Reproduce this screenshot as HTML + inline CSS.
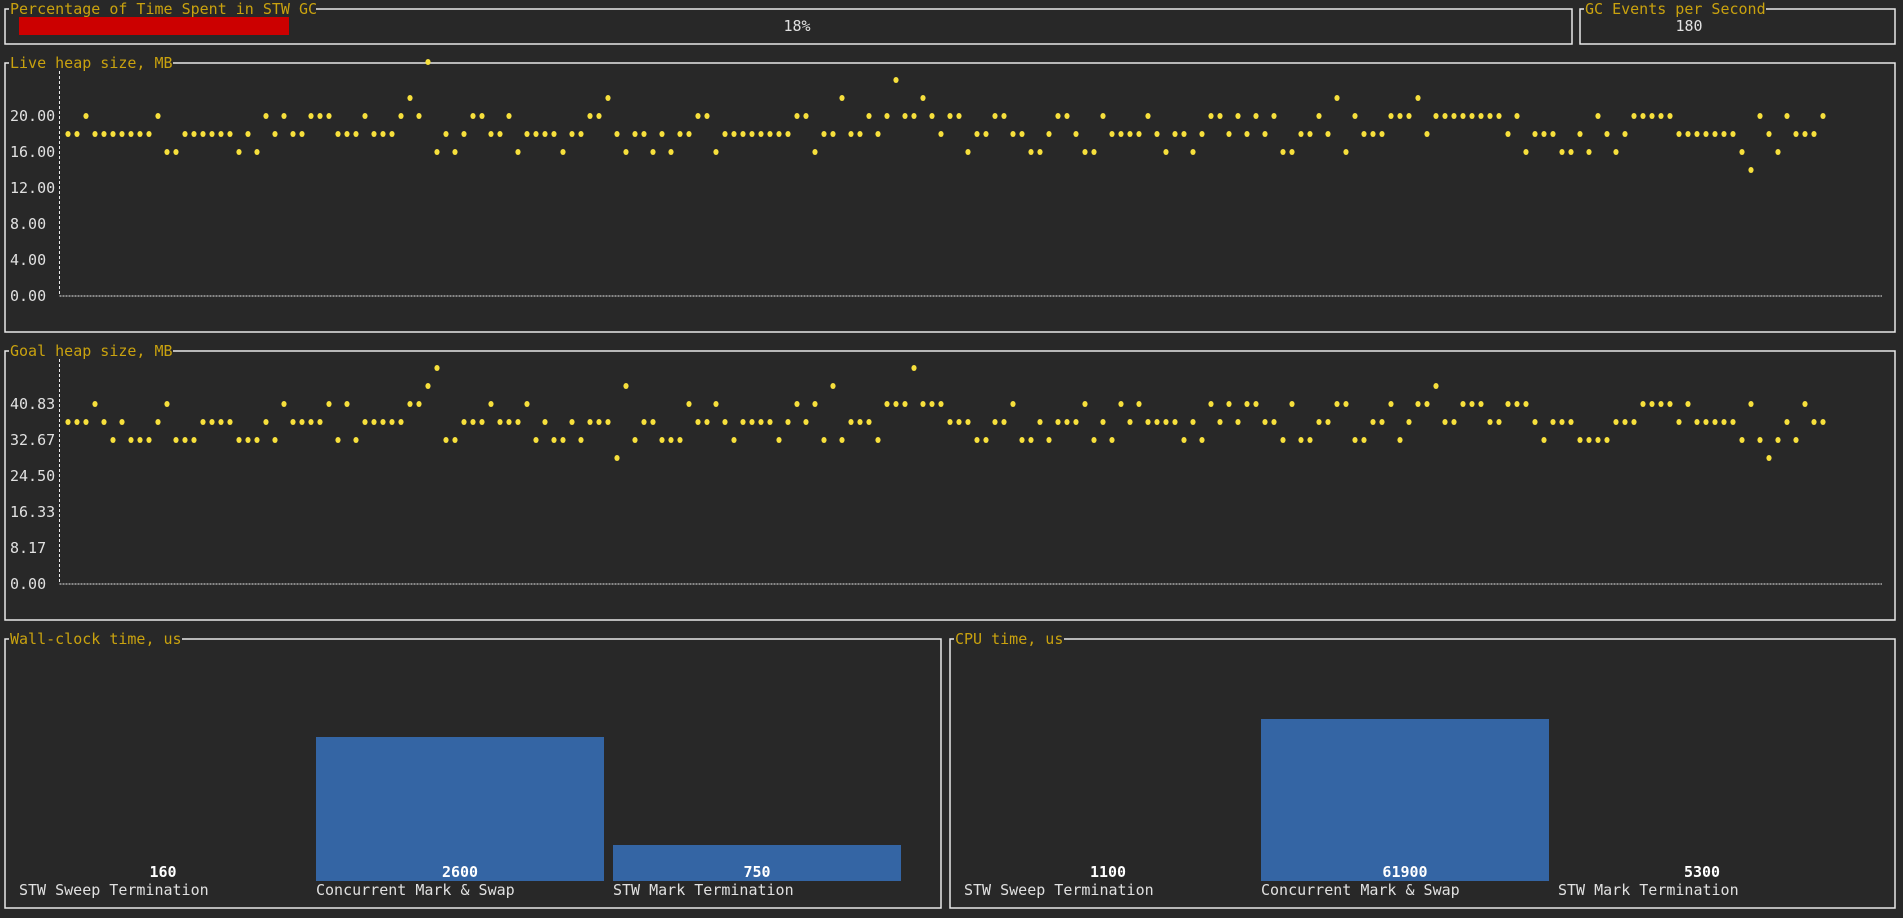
<!DOCTYPE html>
<html><head><meta charset="utf-8"><style>
html,body{margin:0;padding:0;background:#282828;}
svg{display:block;font-family:"DejaVu Sans Mono","Liberation Mono",monospace;font-size:15px;}
</style></head><body>
<svg id="root" width="1903" height="918" viewBox="0 0 1903 918" xmlns="http://www.w3.org/2000/svg">
<rect x="0" y="0" width="1903" height="918" fill="#282828"/>
<g id="frames" fill="none" stroke="#e8e8e8" stroke-width="1.5">
<rect x="5" y="9" width="1567" height="35"/>
<rect x="1580" y="9" width="315" height="35"/>
<rect x="5" y="63" width="1890" height="269"/>
<rect x="5" y="351" width="1890" height="269"/>
<rect x="5" y="639" width="936" height="269"/>
<rect x="950" y="639" width="945" height="269"/>
</g>
<g fill="#c9a20f">
<rect x="9" y="0" width="307" height="18" fill="#282828"/><text x="10" y="14">Percentage of Time Spent in STW GC</text>
<rect x="1584" y="0" width="182" height="18" fill="#282828"/><text x="1585" y="14">GC Events per Second</text>
<rect x="9" y="54" width="164" height="18" fill="#282828"/><text x="10" y="68">Live heap size, MB</text>
<rect x="9" y="342" width="164" height="18" fill="#282828"/><text x="10" y="356">Goal heap size, MB</text>
<rect x="9" y="630" width="173" height="18" fill="#282828"/><text x="10" y="644">Wall-clock time, us</text>
<rect x="954" y="630" width="110" height="18" fill="#282828"/><text x="955" y="644">CPU time, us</text>
</g>
<rect x="19" y="17" width="270" height="18" fill="#cc0000"/>
<text x="797" y="31" fill="#e0e0e0" text-anchor="middle">18%</text>
<text x="1689" y="31" fill="#e0e0e0" text-anchor="middle">180</text>
<g id="live"></g>
<g id="goal"></g>
<g id="wall"></g>
<g id="cpu"></g>
</svg>
<script>
const liveValues = [18,18,20,18,18,18,18,18,18,18, 20,16,16,18,18,18,18,18,18,16, 18,16,20,18,20,18,18,20,20,20,
 18,18,18,20,18,18,18,20,22,20, 26,16,18,16,18,20,20,18,18,20, 16,18,18,18,18,16,18,18,20,20,
 22,18,16,18,18,16,18,16,18,18, 20,20,16,18,18,18,18,18,18,18, 18,20,20,16,18,18,22,18,18,20,
 18,20,24,20,20,22,20,18,20,20, 16,18,18,20,20,18,18,16,16,18, 20,20,18,16,16,20,18,18,18,18,
 20,18,16,18,18,16,18,20,20,18, 20,18,20,18,20,16,16,18,18,20, 18,22,16,20,18,18,18,20,20,20,
 22,18,20,20,20,20,20,20,20,20, 18,20,16,18,18,18,16,16,18,16, 20,18,16,18,20,20,20,20,20,18,
 18,18,18,18,18,18,16,14,20,18, 16,20,18,18,18,20];
const liveTicks = ["0.00","4.00","8.00","12.00","16.00","20.00"];
const liveTickValues = [0,4,8,12,16,20];
const goalValues = [36.75,36.75,36.75,40.83,36.75,32.67,36.75,32.67,32.67,32.67,
 36.75,40.83,32.67,32.67,32.67,36.75,36.75,36.75,36.75,32.67,
 32.67,32.67,36.75,32.67,40.83,36.75,36.75,36.75,36.75,40.83,
 32.67,40.83,32.67,36.75,36.75,36.75,36.75,36.75,40.83,40.83,
 44.92,49,32.67,32.67,36.75,36.75,36.75,40.83,36.75,36.75,
 36.75,40.83,32.67,36.75,32.67,32.67,36.75,32.67,36.75,36.75,
 36.75,28.58,44.92,32.67,36.75,36.75,32.67,32.67,32.67,40.83,
 36.75,36.75,40.83,36.75,32.67,36.75,36.75,36.75,36.75,32.67,
 36.75,40.83,36.75,40.83,32.67,44.92,32.67,36.75,36.75,36.75,
 32.67,40.83,40.83,40.83,49,40.83,40.83,40.83,36.75,36.75,
 36.75,32.67,32.67,36.75,36.75,40.83,32.67,32.67,36.75,32.67,
 36.75,36.75,36.75,40.83,32.67,36.75,32.67,40.83,36.75,40.83,
 36.75,36.75,36.75,36.75,32.67,36.75,32.67,40.83,36.75,40.83,
 36.75,40.83,40.83,36.75,36.75,32.67,40.83,32.67,32.67,36.75,
 36.75,40.83,40.83,32.67,32.67,36.75,36.75,40.83,32.67,36.75,
 40.83,40.83,44.92,36.75,36.75,40.83,40.83,40.83,36.75,36.75,
 40.83,40.83,40.83,36.75,32.67,36.75,36.75,36.75,32.67,32.67,
 32.67,32.67,36.75,36.75,36.75,40.83,40.83,40.83,40.83,36.75,
 40.83,36.75,36.75,36.75,36.75,36.75,32.67,40.83,32.67,28.58,
 32.67,36.75,32.67,40.83,36.75,36.75];
const goalTicks = ["0.00","8.17","16.33","24.50","32.67","40.83"];
const goalTickValues = [0,8.17,16.33,24.5,32.67,40.83];
const barCategories = ["STW Sweep Termination","Concurrent Mark & Swap","STW Mark Termination"];
const wallValues = [160,2600,750];
const wallLabels = ["160","2600","750"];
const cpuValues = [1100,61900,5300];
const cpuLabels = ["1100","61900","5300"];

const NS="http://www.w3.org/2000/svg";
function mk(tag,attrs,parent){const e=document.createElementNS(NS,tag);for(const k in attrs)e.setAttribute(k,attrs[k]);parent.appendChild(e);return e;}

function scatter(gid,vals,ticks,tickVals,y0,pxPerUnit,axisTop){
  const g=document.getElementById(gid);
  const x=i=>68+9*i;
  const y=v=>y0-v*pxPerUnit;
  const ya=mk('line',{x1:59.5,y1:axisTop,x2:59.5,y2:y0,stroke:'#e8e8e8','stroke-width':1,'stroke-dasharray':'3,2'},g);
  
  
  const xa=mk('line',{x1:59.5,y1:y0,x2:1882,y2:y0,stroke:'#e8e8e8','stroke-width':1,'stroke-dasharray':'2,1'},g);
  
  
  ticks.forEach((t,i)=>{
    const tx=mk('text',{x:10,y:y(tickVals[i])+5,fill:'#e0e0e0'},g);
    tx.textContent=t;
    
    
  });
  vals.forEach((v,i)=>{
    const c=mk('ellipse',{cx:x(i),cy:y(v),rx:2.6,ry:3,fill:'#f7e03c'},g);
    
    
  });
}
scatter('live',liveValues,liveTicks,liveTickValues,296,9,71);
scatter('goal',goalValues,goalTicks,goalTickValues,584,18*12/49,359);

function bars(gid,x0,vals,labels,scaleMax){
  const g=document.getElementById(gid);
  const base=881, rowsAvail=13;
  vals.forEach((v,i)=>{
    const bx=x0+297*i;
    const rows=Math.floor(v/scaleMax*rowsAvail);
    const h=rows*18;
    if(h>0){
      const r=mk('rect',{x:bx,y:base-h,width:288,height:h,fill:'#3465a4'},g);
      
      
    }
    const t=mk('text',{x:bx+144,y:base-4,fill:'#ffffff','font-weight':'bold','text-anchor':'middle'},g);
    t.textContent=labels[i];
    
    
    const l=mk('text',{x:bx,y:base+14,fill:'#e0e0e0'},g);
    l.textContent=barCategories[i];
    
    
  });
}
bars('wall',19,wallValues,wallLabels,4000);
bars('cpu',964,cpuValues,cpuLabels,85000);
</script>
</body></html>
